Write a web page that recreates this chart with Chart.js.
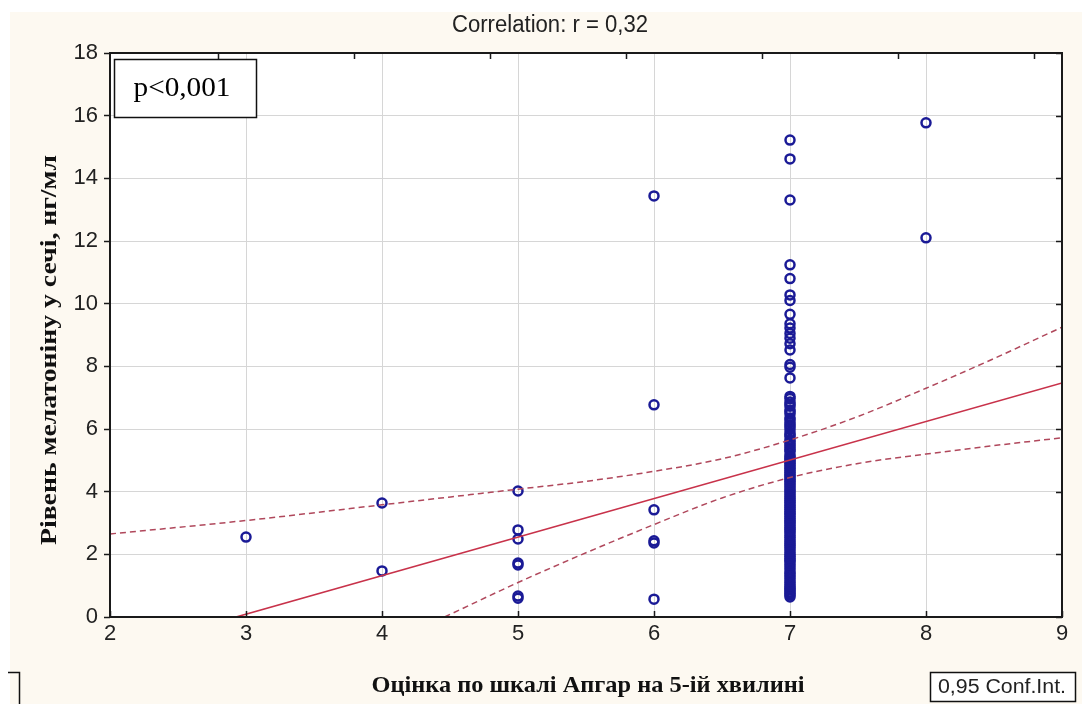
<!DOCTYPE html>
<html>
<head>
<meta charset="utf-8">
<script src="https://cdn.jsdelivr.net/npm/chart.js@4.4.1/dist/chart.umd.min.js"></script>
<style>
  html, body { margin: 0; padding: 0; background: #ffffff; }
  #wrap { width: 1082px; height: 704px; position: relative; }
</style>
</head>
<body>
<div id="wrap"><canvas id="chart" width="1082" height="704"></canvas></div>
<script>
// Apgar score at 5 minutes (x) vs urinary melatonin level, ng/ml (y)
const melatoninApgar3 = [2.55];
const melatoninApgar4 = [3.64, 1.47];
const melatoninApgar5 = [4.02, 2.78, 2.49, 1.72, 1.66, 0.67, 0.6];
const melatoninApgar6 = [13.44, 6.77, 3.42, 2.43, 2.36, 0.57];
const melatoninApgar7 = [
  15.22, 14.62, 13.31, 11.24, 10.8, 10.28, 10.1, 9.66, 9.36, 9.22, 9.05, 8.9,
  8.72, 8.52, 8.06, 7.97, 7.63,
  7.04, 6.97, 6.86, 6.79, 6.73, 6.61, 6.55, 6.48, 6.35, 6.29, 6.2, 6.13, 6.06,
  5.98, 5.87, 5.81, 5.76, 5.65, 5.59, 5.52, 5.46, 5.39, 5.33, 5.28, 5.17, 5.11,
  5.06, 5.01, 4.95, 4.9, 4.84, 4.78, 4.73, 4.67, 4.61, 4.55, 4.5, 4.44, 4.38,
  4.33, 4.27, 4.21, 4.15, 4.08, 4.02, 3.96, 3.89, 3.83, 3.77, 3.71, 3.66, 3.6,
  3.54, 3.49, 3.43, 3.37, 3.31, 3.26, 3.2, 3.14, 3.08, 3.03, 2.97, 2.91, 2.85,
  2.8, 2.74, 2.68, 2.6, 2.54, 2.46, 2.39, 2.33, 2.27, 2.21, 2.14, 2.06, 1.99,
  1.93, 1.87, 1.81, 1.76, 1.68, 1.61, 1.53, 1.44, 1.38, 1.31, 1.24, 1.16, 1.09,
  1.02, 0.96, 0.91, 0.86, 0.8, 0.75, 0.7, 0.64
];
const melatoninApgar8 = [15.77, 12.1];

// Fitted regression line and its 0.95 confidence band
const regressionX = [2, 9];
const regressionY = [-1.14, 7.47];
const confUpperX = [2, 3, 4, 5, 5.5, 6, 6.5, 7, 7.5, 8, 8.5, 9];
const confUpperY = [2.65, 3.08, 3.58, 4.08, 4.33, 4.65, 5.05, 5.65, 6.4, 7.3, 8.25, 9.25];
const confLowerX = [4.46, 5, 5.5, 6, 6.5, 7, 7.5, 8, 8.5, 9];
const confLowerY = [0, 1.1, 2.05, 2.95, 3.8, 4.45, 4.9, 5.2, 5.47, 5.72];

// Axis ticks
const xTicks = [2, 3, 4, 5, 6, 7, 8, 9];
const yTicks = [0, 2, 4, 6, 8, 10, 12, 14, 16, 18];

const chartTitle = 'Correlation: r = 0,32';
const xTitle = 'Оцінка по шкалі Апгар на 5-ій хвилині';
const yTitle = 'Рівень мелатоніну у сечі, нг/мл';
const pLabel = 'p<0,001';
const confLabel = '0,95 Conf.Int.';

const groups = [
  [3, melatoninApgar3], [4, melatoninApgar4], [5, melatoninApgar5],
  [6, melatoninApgar6], [7, melatoninApgar7], [8, melatoninApgar8]
];
const scatterPoints = [];
groups.forEach(([score, values]) => values.forEach(v => scatterPoints.push({ x: score, y: v })));

const zip = (xs, ys) => xs.map((x, i) => ({ x, y: ys[i] }));

const SANS = "'Liberation Sans', Arial, sans-serif";
const SERIF = "'Liberation Serif', 'Times New Roman', serif";

// draws text squeezed or stretched horizontally to a given width
function fitText(ctx, text, cx, cy, width) {
  const w = ctx.measureText(text).width;
  ctx.save();
  ctx.translate(cx, cy);
  ctx.scale(width / w, 1);
  ctx.fillText(text, 0, 0);
  ctx.restore();
}

const frame = {
  id: 'frame',
  beforeDraw(chart) {
    const { ctx, chartArea: a } = chart;
    ctx.save();
    ctx.fillStyle = '#fdf9f1';
    ctx.fillRect(10, 12, chart.width - 10, chart.height - 12);
    ctx.fillStyle = '#ffffff';
    ctx.fillRect(a.left, a.top, a.right - a.left, a.bottom - a.top);
    ctx.restore();
  },
  afterDraw(chart) {
    const { ctx, chartArea: a, scales } = chart;
    const xs = scales.x, ys = scales.y;
    ctx.save();
    // frame
    ctx.strokeStyle = '#1a1a1a';
    ctx.lineWidth = 2;
    ctx.strokeRect(a.left, a.top, a.right - a.left, a.bottom - a.top);
    // inward ticks: bottom, top (shifted secondary), right
    ctx.lineWidth = 1.5;
    ctx.beginPath();
    xTicks.forEach(t => {
      const px = Math.round(xs.getPixelForValue(t)) + 0.5;
      ctx.moveTo(px, a.bottom); ctx.lineTo(px, a.bottom - 6);
      const tp = Math.round(xs.getPixelForValue(t - 0.206)) + 0.5;
      if (tp > a.left + 2) { ctx.moveTo(tp, a.top); ctx.lineTo(tp, a.top + 6); }
    });
    yTicks.forEach(t => {
      const py = Math.round(ys.getPixelForValue(t)) + 0.5;
      ctx.moveTo(a.right, py); ctx.lineTo(a.right - 6, py);
    });
    ctx.stroke();

    // chart title
    ctx.fillStyle = '#222';
    ctx.font = '23px ' + SANS;
    ctx.textAlign = 'center';
    ctx.textBaseline = 'middle';
    fitText(ctx, chartTitle, 550, 26, 196);

    // axis titles
    ctx.font = 'bold 24px ' + SERIF;
    ctx.fillStyle = '#111';
    fitText(ctx, xTitle, 588, 686, 433);
    ctx.save();
    ctx.translate(50, 350);
    ctx.rotate(-Math.PI / 2);
    fitText(ctx, yTitle, 0, 0, 390);
    ctx.restore();

    // p-value box
    ctx.fillStyle = '#ffffff';
    ctx.fillRect(114, 59, 142, 58);
    ctx.strokeStyle = '#111';
    ctx.lineWidth = 1.5;
    ctx.strokeRect(114.5, 59.5, 142, 58);
    ctx.fillStyle = '#000';
    ctx.font = '28px ' + SERIF;
    fitText(ctx, pLabel, 182, 89, 97);

    // legend boxes
    ctx.fillStyle = '#ffffff';
    ctx.fillRect(930, 672, 145, 29);
    ctx.strokeRect(930.5, 672.5, 145, 29);
    ctx.fillStyle = '#222';
    ctx.font = '20px ' + SANS;
    fitText(ctx, confLabel, 1002, 687, 128);
    ctx.beginPath();
    ctx.moveTo(8, 672.5); ctx.lineTo(19.5, 672.5); ctx.lineTo(19.5, 704);
    ctx.stroke();
    ctx.restore();
  }
};

new Chart(document.getElementById('chart'), {
  type: 'scatter',
  data: {
    datasets: [
      {
        label: 'points',
        data: scatterPoints,
        pointStyle: 'circle',
        pointRadius: 4.5,
        pointBorderWidth: 2.5,
        borderColor: '#1a1a96',
        backgroundColor: 'rgba(0,0,0,0)',
        order: 2
      },
      {
        label: 'regression',
        data: zip(regressionX, regressionY),
        showLine: true,
        borderColor: '#c8324a',
        borderWidth: 1.6,
        pointRadius: 0,
        order: 1
      },
      {
        label: 'upper',
        data: zip(confUpperX, confUpperY),
        showLine: true,
        cubicInterpolationMode: 'monotone',
        borderColor: '#b0485c',
        borderWidth: 1.5,
        borderDash: [6, 4],
        pointRadius: 0,
        order: 0
      },
      {
        label: 'lower',
        data: zip(confLowerX, confLowerY),
        showLine: true,
        cubicInterpolationMode: 'monotone',
        borderColor: '#b0485c',
        borderWidth: 1.5,
        borderDash: [6, 4],
        pointRadius: 0,
        order: 0
      }
    ]
  },
  options: {
    responsive: false,
    animation: false,
    events: [],
    layout: { padding: { top: 53, right: 20, left: 0, bottom: 0 } },
    plugins: { legend: { display: false }, title: { display: false }, tooltip: { enabled: false } },
    scales: {
      x: {
        type: 'linear',
        min: 2, max: 9,
        afterFit(s) { s.height = 87; },
        afterBuildTicks(s) { s.ticks = xTicks.map(v => ({ value: v })); },
        grid: { color: '#d6d6d6', lineWidth: 1, drawTicks: false },
        border: { display: false },
        ticks: { color: '#222', font: { family: SANS, size: 22 }, padding: 4, maxRotation: 0 }
      },
      y: {
        type: 'linear',
        min: 0, max: 18,
        afterFit(s) { s.width = 110; },
        afterBuildTicks(s) { s.ticks = yTicks.map(v => ({ value: v })); },
        grid: { color: '#d6d6d6', lineWidth: 1, tickLength: 6, tickColor: '#1a1a1a', tickWidth: 1.5 },
        border: { display: false },
        ticks: { color: '#222', font: { family: SANS, size: 22 }, padding: 6 }
      }
    }
  },
  plugins: [frame]
});
</script>
</body>
</html>
